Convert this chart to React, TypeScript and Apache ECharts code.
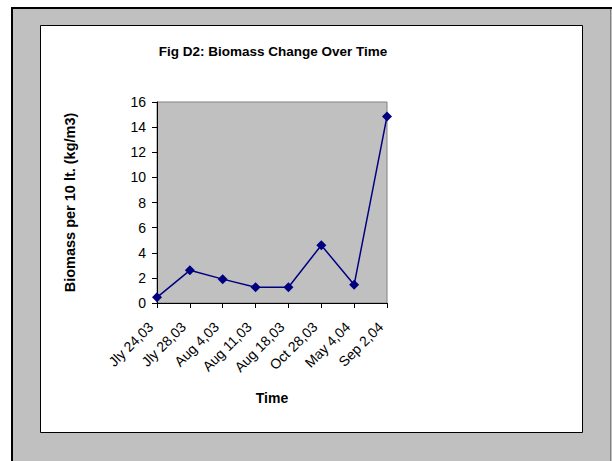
import React, { useEffect, useRef } from "react";
import * as echarts from "echarts";

const categories = ["Jly 24,03", "Jly 28,03", "Aug 4,03", "Aug 11,03", "Aug 18,03", "Oct 28,03", "May 4,04", "Sep 2,04"];
const biomass = [0.45, 2.6, 1.9, 1.25, 1.25, 4.6, 1.45, 14.85];
const yTicks = { min: 0, max: 16, interval: 2 };

const FONT = '"Liberation Sans", Arial, sans-serif';

export default function App() {
  const ref = useRef<HTMLDivElement>(null);
  useEffect(() => {
    document.body.style.margin = "0";
    const chart = echarts.init(ref.current!, null, { renderer: "svg" });
    chart.setOption({
      animation: false,
      backgroundColor: "#ffffff",
      graphic: [
        {
          type: "rect",
          z: -10,
          shape: { x: 12, y: 8, width: 610, height: 470 },
          style: { fill: "#c0c0c0", stroke: "#000000", lineWidth: 2 },
        },
        {
          type: "line",
          z: -9,
          shape: { x1: 610.5, y1: 9, x2: 610.5, y2: 461 },
          style: { stroke: "#808080", lineWidth: 1 },
        },
        {
          type: "rect",
          z: -8,
          shape: { x: 40.5, y: 25.5, width: 542, height: 407 },
          style: { fill: "#ffffff", stroke: "#000000", lineWidth: 1 },
        },
      ],
      title: {
        text: "Fig D2: Biomass Change Over Time",
        left: 268,
        top: 39,
        textAlign: "center",
        textStyle: { fontFamily: FONT, fontSize: 13.5, fontWeight: "bold", color: "#000" },
      },
      grid: {
        left: 157,
        top: 102,
        width: 230,
        height: 201,
        show: true,
        backgroundColor: "#c0c0c0",
        borderColor: "#808080",
        borderWidth: 1,
      },
      xAxis: {
        type: "category",
        data: categories,
        boundaryGap: false,
        name: "Time",
        nameLocation: "middle",
        nameGap: 88,
        nameTextStyle: { fontFamily: FONT, fontSize: 14, fontWeight: "bold", color: "#000" },
        axisLine: { lineStyle: { color: "#000", width: 1 } },
        axisTick: { show: true, length: 5, lineStyle: { color: "#000" } },
        axisLabel: {
          interval: 0,
          rotate: 45,
          margin: 15,
          padding: [0, 9, 0, 0],
          fontFamily: FONT,
          fontSize: 14,
          color: "#000",
        },
        splitLine: { show: false },
      },
      yAxis: {
        type: "value",
        min: yTicks.min,
        max: yTicks.max,
        interval: yTicks.interval,
        name: "Biomass per 10 lt. (kg/m3)",
        nameLocation: "middle",
        nameGap: 80,
        nameTextStyle: { fontFamily: FONT, fontSize: 14.5, fontWeight: "bold", color: "#000" },
        axisLine: { show: true, lineStyle: { color: "#000", width: 1 } },
        axisTick: { show: true, length: 5, lineStyle: { color: "#000" } },
        axisLabel: { margin: 11, fontFamily: FONT, fontSize: 14, color: "#000" },
        splitLine: { show: false },
      },
      series: [
        {
          type: "line",
          data: biomass,
          symbol: "diamond",
          symbolSize: 10,
          lineStyle: { color: "#000080", width: 1.5 },
          itemStyle: { color: "#000080" },
        },
      ],
    });
    return () => chart.dispose();
  }, []);
  return <div ref={ref} style={{ position: "absolute", left: 0, top: 0, width: 612, height: 461 }} />;
}
